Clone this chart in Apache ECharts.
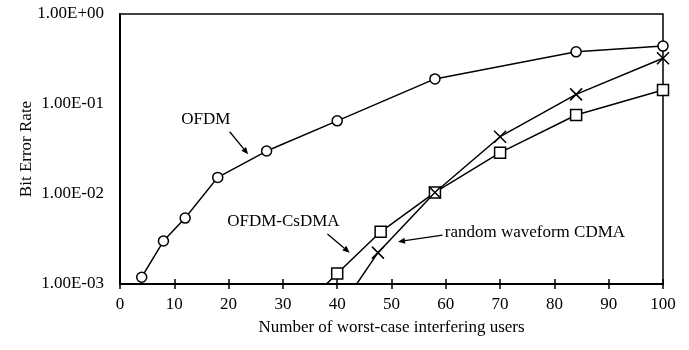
<!DOCTYPE html>
<html>
<head>
<meta charset="utf-8">
<script src="https://cdn.jsdelivr.net/npm/echarts@6/dist/echarts.min.js"></script>
<style>
html,body{margin:0;padding:0;background:#fff;}
#chart{width:689px;height:350px;}
</style>
</head>
<body>
<div id="chart"></div>
<script>
// ---- data ----
var xTicks = [0, 10, 20, 30, 40, 50, 60, 70, 80, 90, 100];
var yTickLabels = ['1.00E-03', '1.00E-02', '1.00E-01', '1.00E+00'];

var ofdmUsers = [4, 8, 12, 18, 27, 40, 58, 84, 100];
var ofdmBER   = [1.19e-3, 3.0e-3, 5.4e-3, 1.53e-2, 3.0e-2, 6.5e-2, 0.19, 0.38, 0.44];

var csdmaUsers = [32, 40, 48, 58, 70, 84, 100];
var csdmaBER   = [4.4e-4, 1.31e-3, 3.8e-3, 1.04e-2, 2.88e-2, 7.55e-2, 0.143];

var cdmaUsers = [40, 47.5, 58, 70, 84, 100];
var cdmaBER   = [4.8e-4, 2.23e-3, 1.04e-2, 4.33e-2, 0.128, 0.322];

var seriesNames = ['OFDM', 'OFDM-CsDMA', 'random waveform CDMA'];
var xTitle = 'Number of worst-case interfering users';
var yTitle = 'Bit Error Rate';

// annotations: [text, textX, textY, align, arrowFromX, arrowFromY, arrowToX, arrowToY] (data units)
var annotations = [
  ['OFDM', 15.8, 0.0664, 'center', 20.2, 0.0492, 23.6, 0.0276],
  ['OFDM-CsDMA', 30.1, 4.89e-3, 'center', 38.2, 3.6e-3, 42.3, 2.23e-3],
  ['random waveform CDMA', 59.8, 3.69e-3, 'left', 59.4, 3.5e-3, 51.2, 2.95e-3]
];

// ---- build ----
var FONT = 'Liberation Serif';
var FS = 17;
var yMin = 1e-3, yMax = 1;
function pairs(xs, ys) {
  return xs.map(function (x, i) {
    var item = { value: [x, ys[i]] };
    if (ys[i] < yMin) item.symbol = 'none';
    return item;
  });
}
function fmtE(v) {
  var e = Math.round(Math.log10(v));
  var idx = e + 3;
  return yTickLabels[idx] !== undefined ? yTickLabels[idx] : '';
}

var chart = echarts.init(document.getElementById('chart'), null, { renderer: 'canvas' });
var lineStyle = { color: '#000', width: 1.5 };
var option = {
  animation: false,
  backgroundColor: '#fff',
  textStyle: { fontFamily: FONT },
  grid: { left: 120, right: 26, top: 14, bottom: 66, show: true, borderColor: '#000', borderWidth: 1.5, backgroundColor: 'transparent' },
  xAxis: [{
    type: 'value', min: xTicks[0], max: xTicks[xTicks.length - 1], interval: 10,
    position: 'bottom',
    name: xTitle, nameLocation: 'middle', nameGap: 35, nameMoveOverlap: false,
    nameTextStyle: { fontFamily: FONT, fontSize: FS, color: '#000' },
    axisLine: { show: true, onZero: false, lineStyle: { color: '#000', width: 2 } },
    axisTick: { show: true, inside: false, length: 5, lineStyle: { color: '#000', width: 1.5 } },
    axisLabel: { fontFamily: FONT, fontSize: FS, color: '#000', margin: 12 },
    splitLine: { show: false }
  }, {
    type: 'value', min: xTicks[0], max: xTicks[xTicks.length - 1], interval: 10,
    position: 'bottom', offset: 0,
    axisLine: { show: false },
    axisTick: { show: true, inside: true, length: 5, lineStyle: { color: '#000', width: 1.5 } },
    axisLabel: { show: false },
    splitLine: { show: false }
  }],
  yAxis: {
    type: 'log', logBase: 10, min: yMin, max: yMax,
    name: yTitle, nameLocation: 'middle', nameGap: 85, nameMoveOverlap: false,
    nameTextStyle: { fontFamily: FONT, fontSize: FS, color: '#000' },
    axisLine: { show: true, onZero: false, lineStyle: { color: '#000', width: 2 } },
    axisTick: { show: false },
    axisLabel: { fontFamily: FONT, fontSize: FS, color: '#000', margin: 16, formatter: fmtE },
    splitLine: { show: false }
  },
  series: [{
    name: seriesNames[0], type: 'line', data: pairs(ofdmUsers, ofdmBER),
    symbol: 'circle', symbolSize: 10, showAllSymbol: true, clip: true,
    lineStyle: lineStyle,
    itemStyle: { color: '#fff', borderColor: '#000', borderWidth: 1.5 }
  }, {
    name: seriesNames[1], type: 'line', data: pairs(csdmaUsers, csdmaBER),
    symbol: 'rect', symbolSize: 11, showAllSymbol: true, clip: true,
    lineStyle: lineStyle,
    itemStyle: { color: '#fff', borderColor: '#000', borderWidth: 1.5 }
  }, {
    name: seriesNames[2], type: 'line', data: pairs(cdmaUsers, cdmaBER),
    symbol: 'path://M0 0L10 10M10 0L0 10', symbolSize: 12, showAllSymbol: true, clip: true,
    lineStyle: lineStyle,
    itemStyle: { color: 'none', borderColor: '#000', borderWidth: 1.5 }
  }]
};
chart.setOption(option);

// annotations positioned from data coordinates
var g = [];
annotations.forEach(function (a) {
  var t = chart.convertToPixel({ gridIndex: 0 }, [a[1], a[2]]);
  g.push({
    type: 'text', x: t[0], y: t[1], z: 10,
    style: { text: a[0], font: FS + 'px "' + FONT + '"', fill: '#000', align: a[3], verticalAlign: 'middle' }
  });
  var p1 = chart.convertToPixel({ gridIndex: 0 }, [a[4], a[5]]);
  var p2 = chart.convertToPixel({ gridIndex: 0 }, [a[6], a[7]]);
  var dx = p2[0] - p1[0], dy = p2[1] - p1[1];
  var L = Math.sqrt(dx * dx + dy * dy), ux = dx / L, uy = dy / L;
  var hl = 7, hw = 3;
  var bx = p2[0] - ux * hl, by = p2[1] - uy * hl;
  g.push({
    type: 'line', z: 10,
    shape: { x1: p1[0], y1: p1[1], x2: bx, y2: by },
    style: { stroke: '#000', lineWidth: 1.3 }
  });
  g.push({
    type: 'polygon', z: 10,
    shape: { points: [[p2[0], p2[1]], [bx - uy * hw, by + ux * hw], [bx + uy * hw, by - ux * hw]] },
    style: { fill: '#000' }
  });
});
chart.setOption({ graphic: g });
</script>
</body>
</html>
